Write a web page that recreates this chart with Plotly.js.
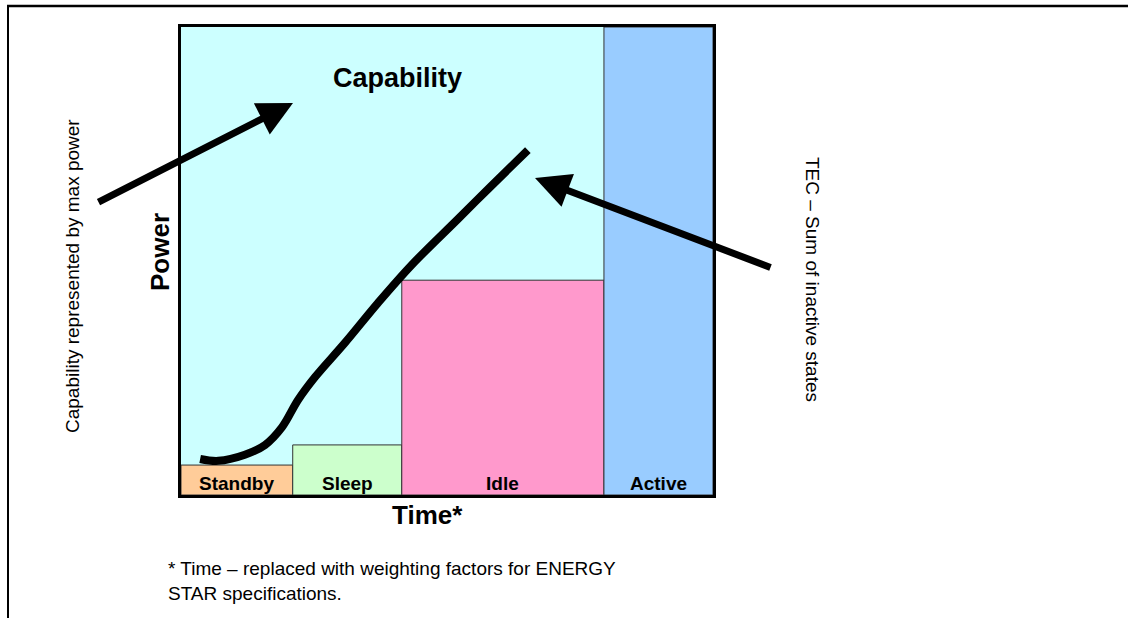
<!DOCTYPE html>
<html>
<head>
<meta charset="utf-8">
<script src="https://cdn.plot.ly/plotly-3.0.1.min.js"></script>
<style>html,body{margin:0;padding:0;background:#fff;}#chart{width:1128px;height:618px;}</style>
</head>
<body>
<div id="chart"></div>
<script>
// Power states (time share in %, power level in % of max)
const states = ['Standby', 'Sleep', 'Idle', 'Active'];
const timeShare = [21, 20.5, 38, 20.5];
const powerLevel = [6.4, 10.7, 45.9, 100];
const stateColors = ['#FFCC99', '#CCFFCC', '#FF99CC', '#99CCFF'];

// TEC cumulative curve (time %, power %)
const curveTime = [3.6, 7.0, 12.0, 15.8, 19.0, 22.0, 25.2, 30.8, 37.0, 43.4, 51.9, 58.1, 65.2];
const curvePower = [7.7, 7.3, 8.6, 10.7, 14.5, 20.3, 25.2, 32.5, 41.0, 49.2, 58.8, 65.8, 73.7];

const FONT = 'Liberation Sans, Arial, sans-serif';

const starts = [];
let acc = 0;
for (const w of timeShare) { starts.push(acc); acc += w; }
const centers = starts.map((s, i) => s + timeShare[i] / 2);

const bars = {
  type: 'bar',
  x: starts,
  y: powerLevel,
  width: timeShare,
  offset: 0,
  marker: { color: stateColors, line: { color: '#333333', width: 1 } },
  hoverinfo: 'skip',
  showlegend: false
};

const curve = {
  type: 'scatter',
  mode: 'lines',
  x: curveTime,
  y: curvePower,
  line: { color: '#000', width: 8, shape: 'spline', smoothing: 1 },
  hoverinfo: 'skip',
  showlegend: false
};

const W = 1128, H = 618;
const px = v => v / W;
const py = v => 1 - v / H;

const annotations = [];
states.forEach((s, i) => {
  annotations.push({
    text: '<b>' + s + '</b>', x: centers[i], y: 0, xref: 'x', yref: 'y',
    xanchor: 'center', yanchor: 'bottom', yshift: -1, showarrow: false,
    font: { family: FONT, size: 19, color: '#000' }
  });
});
annotations.push(
  { text: '<b>Capability</b>', x: px(397), y: py(78), xref: 'paper', yref: 'paper', xanchor: 'center', yanchor: 'middle', showarrow: false, font: { family: FONT, size: 27, color: '#000' } },
  { text: '<b>Power</b>', x: px(160), y: py(252), xref: 'paper', yref: 'paper', xanchor: 'center', yanchor: 'middle', textangle: -90, showarrow: false, font: { family: FONT, size: 26, color: '#000' } },
  { text: '<b>Time*</b>', x: px(427), y: py(515), xref: 'paper', yref: 'paper', xanchor: 'center', yanchor: 'middle', showarrow: false, font: { family: FONT, size: 26, color: '#000' } },
  { text: 'Capability represented by max power', x: px(72), y: py(276), xref: 'paper', yref: 'paper', xanchor: 'center', yanchor: 'middle', textangle: -90, showarrow: false, font: { family: FONT, size: 19, color: '#000' } },
  { text: 'TEC – Sum of inactive states', x: px(813), y: py(279), xref: 'paper', yref: 'paper', xanchor: 'center', yanchor: 'middle', textangle: 90, showarrow: false, font: { family: FONT, size: 19, color: '#000' } },
  { text: '* Time – replaced with weighting factors for ENERGY<br>STAR specifications.', x: px(166), y: py(556), xref: 'paper', yref: 'paper', xanchor: 'left', yanchor: 'top', align: 'left', showarrow: false, font: { family: FONT, size: 19, color: '#000' } },
  // arrows
  { text: '', x: px(293), y: py(103), xref: 'paper', yref: 'paper', ax: 97 - 293, ay: 203 - 103, showarrow: true, arrowhead: 2, arrowsize: 1, arrowwidth: 7, arrowcolor: '#000', standoff: 0 },
  { text: '', x: px(535), y: py(178), xref: 'paper', yref: 'paper', ax: 772 - 535, ay: 268 - 178, showarrow: true, arrowhead: 2, arrowsize: 1, arrowwidth: 7, arrowcolor: '#000', standoff: 0 }
);

const axisCommon = {
  showgrid: false, zeroline: false, showticklabels: false, ticks: '',
  showline: true, mirror: true, linecolor: '#000', linewidth: 3, fixedrange: true
};

const layout = {
  width: W, height: H,
  margin: { l: 0, r: 0, t: 0, b: 0 },
  paper_bgcolor: '#fff',
  plot_bgcolor: '#CCFFFF',
  xaxis: Object.assign({ range: [0, 100], domain: [px(181), px(713)] }, axisCommon),
  yaxis: Object.assign({ range: [0, 100], domain: [py(495), py(27)] }, axisCommon),
  annotations: annotations,
  shapes: [
    { type: 'line', xref: 'paper', yref: 'paper', x0: px(7), x1: 1, y0: py(6), y1: py(6), line: { color: '#000', width: 2.5 } },
    { type: 'line', xref: 'paper', yref: 'paper', x0: px(8), x1: px(8), y0: py(5), y1: 0, line: { color: '#000', width: 2 } }
  ],
  showlegend: false
};

Plotly.newPlot('chart', [bars, curve], layout, { displayModeBar: false, staticPlot: true });
</script>
</body>
</html>
